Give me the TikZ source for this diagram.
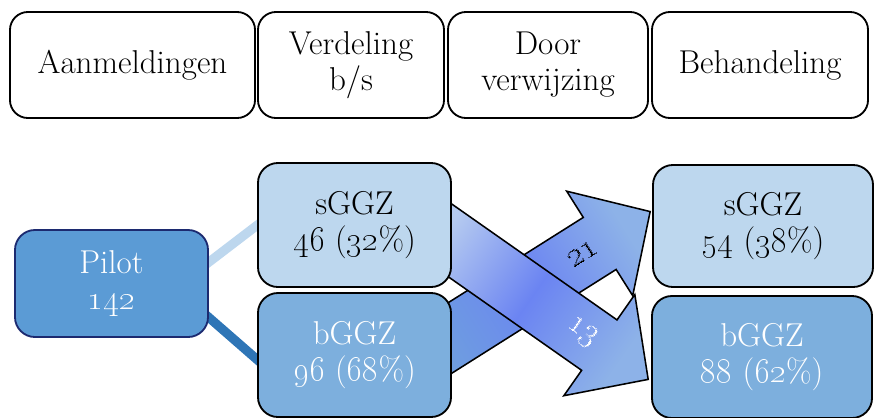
\documentclass[tikz,border=0pt]{standalone}
\usepackage{xcolor}
\usetikzlibrary{shapes.arrows, positioning, calc, backgrounds}
\definecolor{ggzlight}{HTML}{BDD7EE}
\definecolor{ggzmid}{HTML}{7DAFDD}
\definecolor{pilotbg}{HTML}{5B9BD5}
\definecolor{pilotrim}{HTML}{1C2A70}
\definecolor{linkdark}{HTML}{2E75B6}
\definecolor{flowlight}{HTML}{B6CBF0}
\definecolor{flowdeep}{HTML}{6B84F2}
\definecolor{flowtip}{HTML}{8DB2E8}
\definecolor{flowtail}{HTML}{6E9DE0}
\newcommand{\boxfont}{\fontsize{23.5}{25.5}\selectfont}
\newcommand{\osn}[1]{\oldstylenums{#1}}
\tikzset{
  header/.style={rectangle, rounded corners=0.45cm, draw=black, line width=1.3pt,
    align=center, font=\boxfont, minimum height=2.65cm, inner sep=0pt},
  ggz/.style={rectangle, rounded corners=0.5cm, draw=black, line width=1.3pt,
    align=center, font=\boxfont, inner sep=0pt},
  pilot/.style={ggz, draw=pilotrim, fill=pilotbg, text=white,
    minimum width=4.825cm, minimum height=2.675cm},
  sbox/.style={ggz, fill=ggzlight},
  bbox/.style={ggz, fill=ggzmid, text=white},
  link/.style={line width=0.23cm},
  flow/.style={single arrow, draw=black, line width=1.1pt, inner xsep=0pt,
    inner ysep=0.75cm, single arrow head extend=0.775cm,
    single arrow tip angle=92, sloped, pos=1, anchor=tip},
  flowlabel/.style={font=\fontsize{25}{27}\selectfont, sloped, pos=0.69},
}

\begin{document}
\begin{tikzpicture}[x=0.025cm, y=-0.025cm]
  \useasboundingbox (0,0) rectangle (880,417);

  % --- kopregel ---
  \node[header, minimum width=6.125cm] (hAanm) at (132.5,65) {Aanmeldingen};
  \node[header, minimum width=4.65cm]  (hVerd) at (351,65)   {Verdeling\\b/s};
  \node[header, minimum width=5cm]     (hDoor) at (548,65)   {Door\\verwijzing};
  \node[header, minimum width=5.4cm]   (hBeh)  at (760,65)   {Behandeling};

  % --- aanmeldingen en verdeling ---
  \node[pilot] (pilot) at (111.5,283.5) {Pilot\\\osn{142}};
  \node[sbox, minimum width=4.825cm, minimum height=3.1cm] (sLeft) at (354.5,225)
        {sGGZ\\\osn{46} (\osn{32}\%)};
  \node[bbox, minimum width=4.825cm, minimum height=3.1cm] (bLeft) at (354.5,355)
        {bGGZ\\\osn{96} (\osn{68}\%)};

  % --- behandeling ---
  \node[sbox, minimum width=5.5cm, minimum height=3.05cm] (sRight) at (763,226)
        {sGGZ\\\osn{54} (\osn{38}\%)};
  \node[bbox, minimum width=5.5cm, minimum height=3.05cm] (bRight) at (762,357)
        {bGGZ\\\osn{88} (\osn{62}\%)};

  \begin{scope}[on background layer]
    % --- verbindingen vanuit pilot ---
    \draw[link, ggzlight] ([xshift=-0.7cm]pilot.east)
      -- ([xshift=0.5cm, yshift=0.375cm]sLeft.west);
    \draw[link, linkdark] ([xshift=-0.7cm, yshift=-0.24cm]pilot.east)
      -- ([xshift=0.5cm, yshift=-0.55cm]bLeft.west);

    % --- doorverwijzingen ---
    \coordinate (t21) at ($(bLeft.east)+(-21,-5)$);
    \coordinate (h21) at ($(sRight.west)+(-1,-15)$);
    \coordinate (t13) at ($(sLeft.east)+(-21,2)$);
    \coordinate (h13) at ($(bRight.west)+(-2,23)$);

    \path let \p1=($(h21)-(t21)$), \n1={veclen(\x1,\y1)} in
      (t21) -- node[flow, minimum height=\n1, left color=flowtail,
        right color=flowtip, middle color=flowdeep, shading angle=122] (a21) {} (h21);
    \path let \p1=($(h13)-(t13)$), \n1={veclen(\x1,\y1)} in
      (t13) -- node[flow, minimum height=\n1, left color=flowlight,
        right color=flowtip, middle color=flowdeep, shading angle=55] (a13) {} (h13);
  \end{scope}

  % --- aantallen op de pijlen ---
  \path (t21) -- node[flowlabel] {\osn{21}} (h21);
  \path (t13) -- node[flowlabel, text=white] {\osn{13}} (h13);

\end{tikzpicture}
\end{document}
